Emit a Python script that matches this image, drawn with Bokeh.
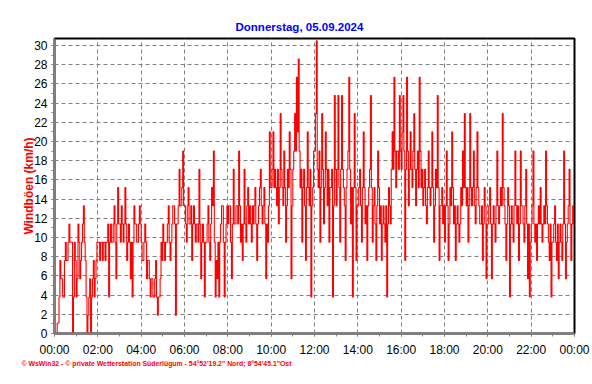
from bokeh.plotting import figure
from bokeh.models import FixedTicker, Title
from bokeh.embed import file_html
from bokeh.resources import INLINE

title_text = "Donnerstag, 05.09.2024"
y_label = "Windböen (km/h)"
footer_text = "© WsWin32  -  © private Wetterstation Süderlügum  -  54°52'19.2\" Nord; 8°54'45.1\"Ost"

x_tick_hours = [0, 2, 4, 6, 8, 10, 12, 14, 16, 18, 20, 22, 24]
x_tick_labels = ["00:00", "02:00", "04:00", "06:00", "08:00", "10:00", "12:00",
                 "14:00", "16:00", "18:00", "20:00", "22:00", "00:00"]
y_ticks = list(range(0, 31, 2))
interval_minutes = 2.5

# wind gusts in km/h, one value per 2.5 minutes (24 per hour)
gust_00_06 = [
    0, 0, 0, 1.1, 1.1, 3.8, 7.6, 5.7, 5.7, 3.8, 3.8, 7.6, 9.5, 7.6, 7.6, 9.5, 11.4, 9.5, 9.5, 9.5, 0, 3.8, 9.5, 7.6,
    3.8, 5.7, 11.4, 9.5, 5.7, 7.6, 9.5, 11.4, 13.3, 9.5, 7.6, 3.8, 0, 1.9, 3.8, 5.7, 0, 3.8, 5.7, 7.6, 3.8, 5.7, 7.6, 9.5,
    9.5, 9.5, 7.6, 9.5, 9.5, 7.6, 9.5, 9.5, 7.6, 9.5, 9.5, 11.4, 3.8, 9.5, 11.4, 9.5, 9.5, 11.4, 13.3, 9.5, 5.7, 11.4, 15.2, 11.4,
    11.4, 9.5, 13.3, 11.4, 9.5, 11.4, 15.2, 11.4, 7.6, 9.5, 11.4, 9.5, 5.7, 9.5, 3.8, 9.5, 13.3, 11.4, 11.4, 9.5, 9.5, 11.4, 13.3, 11.4,
    9.5, 7.6, 7.6, 9.5, 11.4, 9.5, 5.7, 7.6, 7.6, 5.7, 3.8, 5.7, 5.7, 3.8, 3.8, 5.7, 7.6, 3.8, 1.9, 3.8, 3.8, 5.7, 9.5, 7.6,
    11.4, 9.5, 7.6, 9.5, 9.5, 11.4, 13.3, 9.5, 7.6, 9.5, 11.4, 13.3, 13.3, 11.4, 1.9, 11.4, 11.4, 13.3, 17.1, 13.3, 13.3, 15.2, 19.0, 13.3]
gust_06_12 = [
    13.3, 11.4, 9.5, 13.3, 15.2, 11.4, 11.4, 13.3, 7.6, 11.4, 13.3, 11.4, 9.5, 11.4, 11.4, 9.5, 17.1, 11.4, 5.7, 9.5, 11.4, 9.5, 3.8, 9.5,
    9.5, 11.4, 13.3, 9.5, 7.6, 11.4, 15.2, 13.3, 19.0, 9.5, 3.8, 7.6, 5.7, 9.5, 3.8, 9.5, 11.4, 13.3, 13.3, 9.5, 3.8, 9.5, 11.4, 13.3,
    11.4, 13.3, 13.3, 9.5, 5.7, 11.4, 17.1, 11.4, 11.4, 13.3, 13.3, 11.4, 19.0, 13.3, 9.5, 11.4, 7.6, 11.4, 17.1, 11.4, 9.5, 13.3, 15.2, 11.4,
    13.3, 11.4, 9.5, 13.3, 11.4, 13.3, 15.2, 11.4, 7.6, 11.4, 13.3, 15.2, 17.1, 13.3, 11.4, 13.3, 15.2, 11.4, 5.7, 11.4, 9.5, 13.3, 21.0, 15.2,
    15.2, 17.1, 21.0, 15.2, 17.1, 15.2, 13.3, 17.1, 11.4, 15.2, 22.9, 17.1, 15.2, 13.3, 19.0, 15.2, 9.5, 13.3, 17.1, 15.2, 21.0, 17.1, 5.7, 13.3,
    17.1, 19.0, 22.9, 19.0, 26.7, 21.0, 28.6, 19.0, 15.2, 17.1, 9.5, 15.2, 17.1, 13.3, 7.6, 15.2, 21.0, 15.2, 13.3, 17.1, 3.8, 13.3, 15.2, 19.0]
gust_12_18 = [
    19.0, 22.9, 30.5, 17.1, 15.2, 19.0, 9.5, 15.2, 22.9, 17.1, 11.4, 15.2, 21.0, 17.1, 13.3, 17.1, 9.5, 15.2, 15.2, 17.1, 3.8, 13.3, 24.8, 17.1,
    13.3, 17.1, 24.8, 15.2, 9.5, 17.1, 24.8, 17.1, 15.2, 13.3, 7.6, 15.2, 17.1, 19.0, 26.7, 17.1, 11.4, 15.2, 3.8, 15.2, 22.9, 15.2, 7.6, 13.3,
    13.3, 15.2, 17.1, 13.3, 9.5, 15.2, 21.0, 15.2, 11.4, 13.3, 7.6, 13.3, 15.2, 17.1, 24.8, 15.2, 9.5, 13.3, 15.2, 11.4, 7.6, 13.3, 19.0, 15.2,
    11.4, 13.3, 7.6, 11.4, 13.3, 11.4, 9.5, 13.3, 3.8, 11.4, 15.2, 13.3, 11.4, 17.1, 21.0, 17.1, 26.7, 19.0, 15.2, 19.0, 19.0, 17.1, 24.8, 19.0,
    17.1, 21.0, 24.8, 19.0, 7.6, 17.1, 26.7, 19.0, 13.3, 17.1, 21.0, 17.1, 15.2, 19.0, 22.9, 17.1, 13.3, 17.1, 19.0, 15.2, 26.7, 19.0, 15.2, 17.1,
    13.3, 15.2, 17.1, 13.3, 11.4, 15.2, 19.0, 15.2, 13.3, 15.2, 21.0, 15.2, 9.5, 13.3, 17.1, 15.2, 24.8, 15.2, 7.6, 13.3, 13.3, 15.2, 11.4, 13.3]
gust_18_24 = [
    9.5, 13.3, 19.0, 13.3, 7.6, 11.4, 15.2, 13.3, 21.0, 15.2, 11.4, 13.3, 7.6, 11.4, 13.3, 11.4, 9.5, 11.4, 15.2, 13.3, 19.0, 15.2, 22.9, 15.2,
    13.3, 15.2, 9.5, 13.3, 22.9, 15.2, 13.3, 15.2, 19.0, 13.3, 11.4, 15.2, 21.0, 15.2, 13.3, 11.4, 11.4, 13.3, 7.6, 11.4, 15.2, 13.3, 5.7, 11.4,
    11.4, 13.3, 15.2, 11.4, 5.7, 11.4, 13.3, 11.4, 9.5, 13.3, 19.0, 13.3, 11.4, 13.3, 15.2, 13.3, 22.9, 15.2, 13.3, 11.4, 7.6, 11.4, 15.2, 13.3,
    3.8, 11.4, 13.3, 11.4, 9.5, 13.3, 19.0, 13.3, 11.4, 13.3, 7.6, 11.4, 19.0, 13.3, 13.3, 11.4, 9.5, 13.3, 17.1, 11.4, 5.7, 11.4, 3.8, 9.5,
    11.4, 13.3, 19.0, 11.4, 9.5, 11.4, 7.6, 11.4, 13.3, 11.4, 15.2, 11.4, 9.5, 11.4, 13.3, 11.4, 19.0, 13.3, 11.4, 9.5, 7.6, 11.4, 3.8, 9.5,
    9.5, 11.4, 13.3, 9.5, 7.6, 11.4, 5.7, 9.5, 11.4, 9.5, 7.6, 11.4, 19.0, 11.4, 5.7, 9.5, 11.4, 13.3, 17.1, 11.4, 7.6, 11.4, 13.3, 11.4]

values = gust_00_06 + gust_06_12 + gust_12_18 + gust_18_24
hours = [i * interval_minutes / 60 for i in range(len(values))]
hours.append(24.0)
values.append(values[-1])

FONT = "Liberation Sans"
GRAY = "#808080"

p = figure(width=592, height=384, x_range=(0, 24), y_range=(0, 30.73),
           output_backend="svg", toolbar_location=None,
           min_border_left=54, min_border_right=18, min_border_top=38, min_border_bottom=51)
p.background_fill_color = "white"
p.border_fill_color = "white"
p.outline_line_color = "black"
p.outline_line_width = 2

p.step(hours, values, mode="after", line_color="#ff0000", line_width=1.1)

p.xaxis.ticker = FixedTicker(ticks=x_tick_hours, minor_ticks=list(range(0, 25)))
p.xaxis.major_label_overrides = {h: lab for h, lab in zip(x_tick_hours, x_tick_labels)}
p.yaxis.ticker = FixedTicker(ticks=y_ticks, minor_ticks=list(range(0, 31)))

for ax in (p.xaxis, p.yaxis):
    ax.axis_line_color = GRAY
    ax.axis_line_width = 2
    ax.major_tick_line_color = GRAY
    ax.minor_tick_line_color = GRAY
    ax.major_tick_in = 0
    ax.major_tick_out = 3
    ax.minor_tick_in = 0
    ax.minor_tick_out = 3
    ax.major_label_text_font = FONT
    ax.major_label_text_font_size = "12px"
    ax.major_label_text_color = "black"
    ax.major_label_standoff = 4

p.xaxis.major_label_standoff = 6
p.yaxis.axis_label = y_label
p.yaxis.axis_label_text_color = "#ff0000"
p.yaxis.axis_label_text_font = FONT
p.yaxis.axis_label_text_font_size = "12px"
p.yaxis.axis_label_text_font_style = "bold"
p.yaxis.axis_label_standoff = -5

p.xgrid.ticker = FixedTicker(ticks=list(range(2, 24, 2)))
p.ygrid.ticker = FixedTicker(ticks=list(range(2, 31, 2)))
for g in (p.xgrid, p.ygrid):
    g.grid_line_color = GRAY
    g.grid_line_dash = "4 3"
    g.grid_line_width = 1

p.add_layout(Title(text=title_text, align="left", offset=181, standoff=12,
                   text_font=FONT, text_font_size="11.5px", text_font_style="bold",
                   text_color="#0000ff"), "above")
p.add_layout(Title(text=footer_text, align="left", offset=-33, standoff=-3,
                   text_font=FONT, text_font_size="6.9px", text_font_style="bold",
                   text_color="#ff0000"), "below")

open("out.html", "w").write(file_html(p, INLINE))
